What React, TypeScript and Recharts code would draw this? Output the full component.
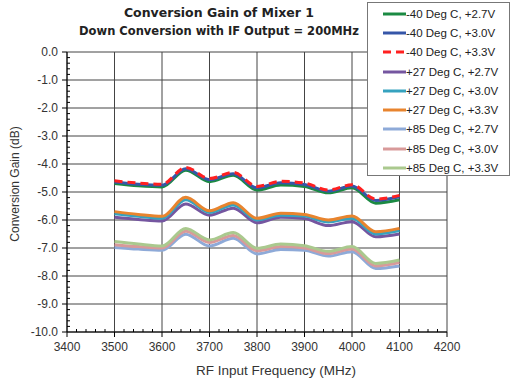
import React from 'react';
import { CartesianGrid, Label, Legend, Line, LineChart, XAxis, YAxis } from 'recharts';

// RF input frequency (MHz)
const freqs = [3500, 3550, 3600, 3650, 3700, 3750, 3800, 3850, 3900, 3950, 4000, 4050, 4100];

// conversion gain (dB)
const m40v27 = [-4.70, -4.78, -4.82, -4.22, -4.63, -4.40, -4.93, -4.75, -4.80, -5.03, -4.85, -5.40, -5.28];
const m40v30 = [-4.64, -4.72, -4.76, -4.17, -4.56, -4.35, -4.85, -4.67, -4.73, -4.97, -4.79, -5.30, -5.17];
const m40v33 = [-4.60, -4.68, -4.72, -4.12, -4.52, -4.30, -4.80, -4.62, -4.68, -4.93, -4.74, -5.25, -5.12];
const p27v27 = [-5.90, -5.98, -6.04, -5.43, -5.83, -5.58, -6.10, -5.90, -5.95, -6.20, -6.06, -6.60, -6.50];
const p27v30 = [-5.78, -5.87, -5.94, -5.28, -5.73, -5.46, -6.00, -5.83, -5.86, -6.07, -5.94, -6.50, -6.38];
const p27v33 = [-5.70, -5.80, -5.87, -5.19, -5.67, -5.38, -5.94, -5.76, -5.80, -6.00, -5.86, -6.42, -6.30];
const p85v27 = [-6.98, -7.04, -7.08, -6.51, -6.93, -6.65, -7.21, -7.05, -7.08, -7.29, -7.13, -7.73, -7.64];
const p85v30 = [-6.88, -6.95, -7.00, -6.40, -6.80, -6.55, -7.10, -6.95, -7.00, -7.20, -7.04, -7.64, -7.52];
const p85v33 = [-6.77, -6.86, -6.93, -6.30, -6.71, -6.45, -7.01, -6.86, -6.92, -7.12, -6.95, -7.55, -7.43];

const xMajor = [3400, 3500, 3600, 3700, 3800, 3900, 4000, 4100, 4200];
const yMajor = [0, -1, -2, -3, -4, -5, -6, -7, -8, -9, -10];

const series = [
  { key: 'm40v27', name: '-40 Deg C, +2.7V', values: m40v27, color: '#1b8a43', dash: undefined },
  { key: 'm40v30', name: '-40 Deg C, +3.0V', values: m40v30, color: '#3656a8', dash: undefined },
  { key: 'm40v33', name: '-40 Deg C, +3.3V', values: m40v33, color: '#ff2020', dash: '8 5' },
  { key: 'p27v27', name: '+27 Deg C, +2.7V', values: p27v27, color: '#7556a0', dash: undefined },
  { key: 'p27v30', name: '+27 Deg C, +3.0V', values: p27v30, color: '#36a2bf', dash: undefined },
  { key: 'p27v33', name: '+27 Deg C, +3.3V', values: p27v33, color: '#e8842e', dash: undefined },
  { key: 'p85v27', name: '+85 Deg C, +2.7V', values: p85v27, color: '#8eaad8', dash: undefined },
  { key: 'p85v30', name: '+85 Deg C, +3.0V', values: p85v30, color: '#d89a9a', dash: undefined },
  { key: 'p85v33', name: '+85 Deg C, +3.3V', values: p85v33, color: '#aac98e', dash: undefined },
];

const data = freqs.map((f, i) => {
  const row: Record<string, number> = { freq: f };
  series.forEach((s) => {
    row[s.key] = s.values[i];
  });
  return row;
});

// minor ticks every 20 MHz / 0.2 dB
const xTicks: number[] = [];
for (let f = 3400; f <= 4200; f += 20) xTicks.push(f);
const yTicks: number[] = [];
for (let i = 0; i <= 50; i++) yTicks.push(-i / 5);

const font = '"Liberation Sans", Arial, sans-serif';
const titleFont = '"DejaVu Sans", sans-serif';

const XTick = (props: any) => {
  const { x, y, payload } = props;
  const v = payload.value;
  const major = Math.round(v) % 100 === 0;
  return (
    <g>
      {major ? (
        <line x1={x} y1={y} x2={x} y2={y + 5} stroke="#000" />
      ) : (
        <line x1={x} y1={y} x2={x} y2={y - 3} stroke="#000" />
      )}
      {major && (
        <text x={x} y={y + 19} textAnchor="middle" fontSize={12} fill="#333" fontFamily={font}>
          {v}
        </text>
      )}
    </g>
  );
};

const YTick = (props: any) => {
  const { x, y, payload } = props;
  const v = payload.value;
  const major = Math.abs(v - Math.round(v)) < 1e-6;
  return (
    <g>
      {major ? (
        <line x1={x - 5} y1={y} x2={x} y2={y} stroke="#000" />
      ) : (
        <line x1={x} y1={y} x2={x + 3} y2={y} stroke="#000" />
      )}
      {major && (
        <text x={x - 9} y={y + 4} textAnchor="end" fontSize={12} fill="#333" fontFamily={font}>
          {Number(v).toFixed(1)}
        </text>
      )}
    </g>
  );
};

const renderLegend = () => (
  <div
    style={{
      boxSizing: 'border-box',
      width: 143,
      height: 174,
      border: '1px solid #777',
      background: '#fff',
      paddingTop: 1,
      fontFamily: font,
      fontSize: 11.5,
      color: '#222',
    }}
  >
    {series.map((s) => (
      <div key={s.key} style={{ height: 19.3, display: 'flex', alignItems: 'center' }}>
        <svg width={38} height={6} style={{ display: 'block' }}>
          <line x1={15} y1={3} x2={38} y2={3} stroke={s.color} strokeWidth={3} strokeDasharray={s.dash} />
        </svg>
        <span style={{ whiteSpace: 'nowrap' }}>{s.name}</span>
      </div>
    ))}
  </div>
);

export default function App() {
  return (
    <div style={{ position: 'absolute', left: 0, top: 0, width: 511, height: 381, background: '#fff' }}>
      <div
        style={{
          position: 'absolute',
          left: 69,
          top: 5,
          width: 300,
          textAlign: 'center',
          fontFamily: titleFont,
          fontWeight: 'bold',
          fontSize: 12.5,
          color: '#222',
        }}
      >
        Conversion Gain of Mixer 1
      </div>
      <div
        style={{
          position: 'absolute',
          left: 69,
          top: 24,
          width: 300,
          textAlign: 'center',
          fontFamily: titleFont,
          fontWeight: 'bold',
          fontSize: 11.5,
          color: '#222',
        }}
      >
        Down Conversion with IF Output = 200MHz
      </div>
      <LineChart
        width={511}
        height={381}
        data={data}
        margin={{ top: 52, right: 64, bottom: 19, left: 7 }}
      >
        <CartesianGrid
          stroke="#444"
          horizontalValues={yMajor}
          verticalValues={xMajor}
        />
        <XAxis
          dataKey="freq"
          type="number"
          domain={[3400, 4200]}
          ticks={xTicks}
          interval={0}
          height={30}
          tickSize={0}
          tickMargin={0}
          tickLine={false}
          tick={<XTick />}
          axisLine={{ stroke: '#000' }}
        >
          <Label
            content={() => (
              <text x={276} y={375} textAnchor="middle" fontSize={13.5} fill="#333" fontFamily={font}>
                RF Input Frequency (MHz)
              </text>
            )}
          />
        </XAxis>
        <YAxis
          type="number"
          domain={[-10, 0]}
          ticks={yTicks}
          interval={0}
          width={60}
          tickSize={0}
          tickMargin={0}
          tickLine={false}
          tick={<YTick />}
          axisLine={{ stroke: '#000' }}
          allowDataOverflow
        >
          <Label
            content={() => (
              <text
                x={15}
                y={184}
                transform="rotate(-90 15 184)"
                textAnchor="middle"
                dominantBaseline="central"
                fontSize={12}
                fill="#333"
                fontFamily={font}
              >
                Conversion Gain (dB)
              </text>
            )}
          />
        </YAxis>
        <Legend
          layout="horizontal"
          verticalAlign="middle"
          align="center"
          content={renderLegend}
          wrapperStyle={{ left: 367, top: 2, width: 143, height: 174 }}
        />
        {series.map((s) => (
          <Line
            key={s.key}
            type="monotone"
            dataKey={s.key}
            name={s.name}
            stroke={s.color}
            strokeWidth={3}
            strokeDasharray={s.dash}
            dot={false}
            activeDot={false}
            isAnimationActive={false}
          />
        ))}
      </LineChart>
    </div>
  );
}
